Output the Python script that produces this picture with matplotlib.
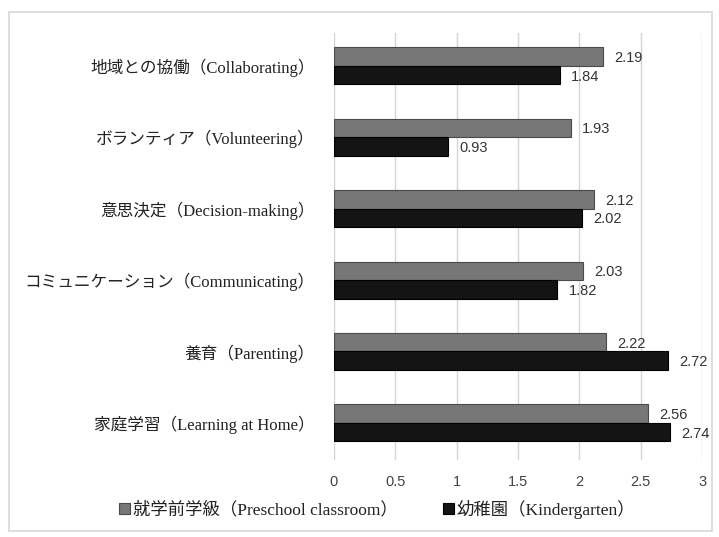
import matplotlib.pyplot as plt
import numpy as np
from matplotlib.patches import Rectangle

categories = [
    "家庭学習（Learning at Home）",
    "養育（Parenting）",
    "コミュニケーション（Communicating）",
    "意思決定（Decision-making）",
    "ボランティア（Volunteering）",
    "地域との協働（Collaborating）",
]
preschool = [2.56, 2.22, 2.03, 2.12, 1.93, 2.19]
kindergarten = [2.74, 2.72, 1.82, 2.02, 0.93, 1.84]
series_names = ["就学前学級（Preschool classroom）", "幼稚園（Kindergarten）"]
xticks = [0, 0.5, 1, 1.5, 2, 2.5, 3]

serif_jp = ["Liberation Serif", "Noto Sans CJK JP"]
sans = ["Liberation Sans", "DejaVu Sans"]

fig = plt.figure(figsize=(7.19, 5.37), dpi=100)
ax = fig.add_axes([0.4645, 0.1434, 0.512, 0.795])

y = np.arange(len(categories))
h = 0.26
b1 = ax.barh(y + h / 2, preschool, height=h, color="#777777", edgecolor="#4a4a4a", linewidth=0.8,
             label=series_names[0], zorder=3)
b2 = ax.barh(y - h / 2, kindergarten, height=h, color="#141414", edgecolor="#000000", linewidth=0.8,
             label=series_names[1], zorder=3)

for bars, vals in ((b1, preschool), (b2, kindergarten)):
    for bar, v in zip(bars, vals):
        ax.annotate(f"{v:.2f}", (v, bar.get_y() + bar.get_height() / 2),
                    textcoords="offset points", xytext=(8, -1), ha="left", va="center",
                    fontsize=10.5, color="#333333", family=sans)

ax.set_xlim(0, 3)
ax.set_ylim(-0.52, 5.46)
ax.set_xticks(xticks)
ax.set_xticklabels([f"{t:g}" for t in xticks], family=sans, fontsize=10.5, color="#444444")
ax.set_yticks(y)
ax.set_yticklabels(categories, family=serif_jp, fontsize=12, color="#222222")
ax.tick_params(axis="x", length=0, pad=11)
ax.tick_params(axis="y", length=0, pad=14)
ax.grid(axis="x", color="#d4d4d4", linewidth=1, zorder=0)
for s in ax.spines.values():
    s.set_visible(False)

leg = fig.legend(loc="lower center", bbox_to_anchor=(0.525, 0.005), ncol=2, frameon=False,
                 handlelength=0.6, handleheight=0.6, handletextpad=0.2, columnspacing=2.6,
                 prop={"family": serif_jp, "size": 12.5})
for t in leg.get_texts():
    t.set_color("#222222")

# light outer frame
fig.patches.append(Rectangle((0.012, 0.012), 0.978, 0.965, transform=fig.transFigure,
                             fill=False, edgecolor="#d8d8d8", linewidth=1.2))

fig.savefig("out.png", dpi=100)
